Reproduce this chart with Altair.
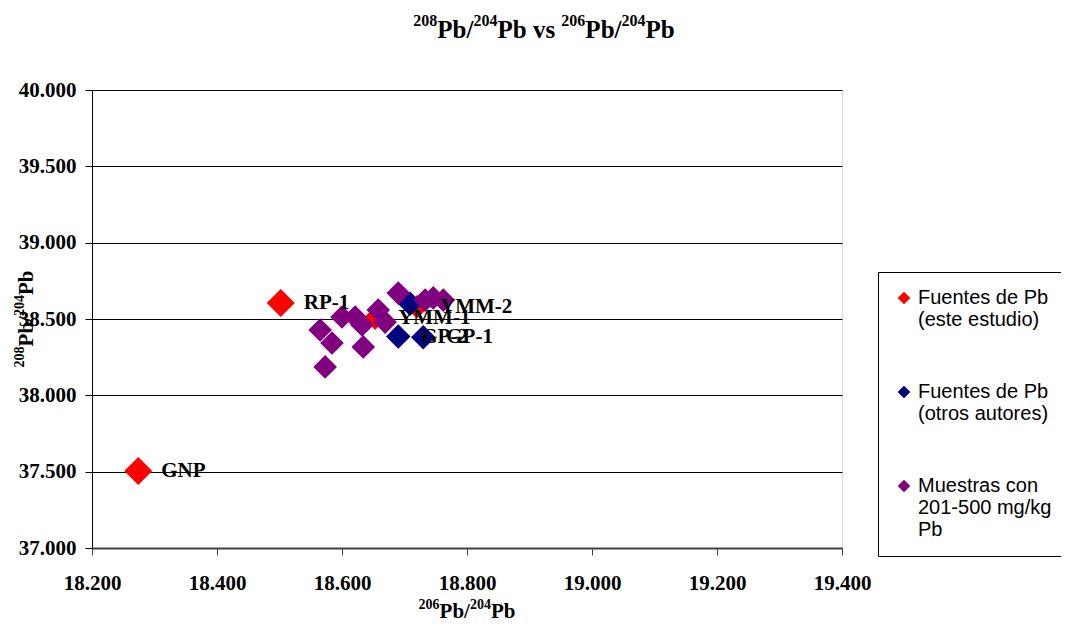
import altair as alt
import pandas as pd

# ---- data ----
groups = ["Fuentes de Pb|(este estudio)",
          "Fuentes de Pb|(otros autores)",
          "Muestras con|201-500 mg/kg|Pb"]
colors = ["#FF0000", "#000080", "#800080"]

red_x = [18.502, 18.274, 18.653, 18.720]
red_y = [38.605, 37.504, 38.505, 38.580]
red_lab = ["RP-1", "GNP", "YMM-1", "YMM-2"]
red_big = [True, True, False, False]

blue_x = [18.709, 18.690, 18.730]
blue_y = [38.600, 38.385, 38.380]
blue_lab = ["", "GP-2", "GP-1"]

purple_x = [18.690, 18.746, 18.762, 18.733, 18.600, 18.621, 18.658, 18.669,
            18.632, 18.565, 18.584, 18.634, 18.573]
purple_y = [38.670, 38.638, 38.624, 38.624, 38.513, 38.513, 38.559, 38.480,
            38.461, 38.428, 38.343, 38.317, 38.186]

x_ticks = [18.2, 18.4, 18.6, 18.8, 19.0, 19.2, 19.4]
y_ticks = [37.0, 37.5, 38.0, 38.5, 39.0, 39.5, 40.0]

# titles as (text, is_superscript) pieces
title_pieces = [("208", True), ("Pb/", False), ("204", True), ("Pb vs ", False),
                ("206", True), ("Pb/", False), ("204", True), ("Pb", False)]
xtitle_pieces = [("206", True), ("Pb/", False), ("204", True), ("Pb", False)]
ytitle_pieces = [("208", True), ("Pb/", False), ("204", True), ("Pb", False)]

rows = []
for x, y, l, b in zip(red_x, red_y, red_lab, red_big):
    rows.append(dict(x=x, y=y, g=groups[0], label=l, big=b, order=0))
for x, y, l in zip(blue_x, blue_y, blue_lab):
    rows.append(dict(x=x, y=y, g=groups[1], label=l, big=False, order=1))
for x, y in zip(purple_x, purple_y):
    rows.append(dict(x=x, y=y, g=groups[2], label="", big=False, order=2))
df = pd.DataFrame(rows)

# approximate Times-Bold advance widths (em) used to lay out the rich titles
CW = {"P": 0.611, "b": 0.556, "/": 0.278, " ": 0.25, "v": 0.5, "s": 0.389}


def text_w(s, fs):
    return sum(CW.get(c, 0.5) for c in s) * fs


def rich(pieces, fn, fsup, cx, cy, raise_, rotated=False):
    sizes = [fsup if sup else fn for _, sup in pieces]
    widths = [text_w(t, f) for (t, _), f in zip(pieces, sizes)]
    total = sum(widths)
    out, pos = [], -total / 2
    for (t, sup), f, w in zip(pieces, sizes, widths):
        r = raise_ if sup else 0
        if rotated:
            out.append(dict(px=cx - r, py=cy - pos, txt=t, fs=f, ang=270))
        else:
            out.append(dict(px=cx + pos, py=cy - r, txt=t, fs=f, ang=0))
        pos += w
    return out


tdf = pd.DataFrame(
    rich(title_pieces, 25, 16, 452, -52, 12)
    + rich(xtitle_pieces, 21, 14, 375, 528, 9)
    + rich(ytitle_pieces, 21, 14, -59, 229, 9, rotated=True)
)

serif = "Liberation Serif"

xenc = alt.X("x:Q", scale=alt.Scale(domain=[18.2, 19.4], nice=False, zero=False),
             axis=alt.Axis(values=x_ticks, format=".3f", grid=False, title=None,
                           labelFont=serif, labelFontSize=21, labelFontWeight="bold",
                           labelColor="black", labelPadding=17, labelBaseline="top",
                           tickSize=7, tickColor="#404040", domainColor="#404040",
                           domainWidth=2, labelFlush=False))
yenc = alt.Y("y:Q", scale=alt.Scale(domain=[37.0, 40.0], nice=False, zero=False),
             axis=alt.Axis(values=y_ticks, format=".3f", grid=True, gridColor="black",
                           gridOpacity=1, gridWidth=1, title=None,
                           labelFont=serif, labelFontSize=21, labelFontWeight="bold",
                           labelColor="black", labelPadding=9,
                           tickSize=7, tickColor="black", domainColor="black",
                           labelFlush=False))

color = alt.Color("g:N", scale=alt.Scale(domain=groups, range=colors),
                  legend=alt.Legend(title=None, orient="none", legendX=786, legendY=182,
                                    symbolType="diamond", symbolSize=160,
                                    symbolStrokeWidth=0, labelExpr="split(datum.label, '|')",
                                    labelFont="Liberation Sans", labelFontSize=20,
                                    labelColor="black", labelLimit=300, labelOffset=4,
                                    rowPadding=52, padding=16, strokeColor="black",
                                    fillColor="white", labelBaseline="middle"))

base = alt.Chart(df)

red_big_layer = base.transform_filter("datum.order == 0 && datum.big").mark_point(
    shape="diamond", filled=True, opacity=1, size=784).encode(x=xenc, y=yenc, color=color)
red_small_layer = base.transform_filter("datum.order == 0 && !datum.big").mark_point(
    shape="diamond", filled=True, opacity=1, size=560).encode(x=xenc, y=yenc, color=color)
blue_layer = base.transform_filter("datum.order == 1").mark_point(
    shape="diamond", filled=True, opacity=1, size=600).encode(x=xenc, y=yenc, color=color)
purple_layer = base.transform_filter("datum.order == 2").mark_point(
    shape="diamond", filled=True, opacity=1, size=560).encode(x=xenc, y=yenc, color=color)

labels = base.transform_filter("datum.label != ''").mark_text(
    align="left", baseline="middle", dx=23, font=serif, fontSize=21,
    fontWeight="bold", color="black").encode(x="x:Q", y="y:Q", text="label:N")

titles = alt.Chart(tdf).mark_text(
    align="left", baseline="alphabetic", font=serif, fontWeight="bold", color="black"
).encode(
    x=alt.X("px:Q", scale=None, axis=None),
    y=alt.Y("py:Q", scale=None, axis=None),
    text="txt:N",
    size=alt.Size("fs:Q", scale=None, legend=None),
    angle=alt.Angle("ang:Q", scale=None, legend=None),
)

chart = alt.layer(red_big_layer, red_small_layer, blue_layer, purple_layer, labels,
                  titles).properties(
    width=750, height=458,
    autosize=alt.AutoSizeParams(type="none"),
    padding={"left": 84, "top": 82, "right": 219, "bottom": 77},
).configure_view(stroke="black", strokeWidth=1).configure(background="white")

chart.save("out.html", embed_options={"renderer": "svg", "actions": False})
